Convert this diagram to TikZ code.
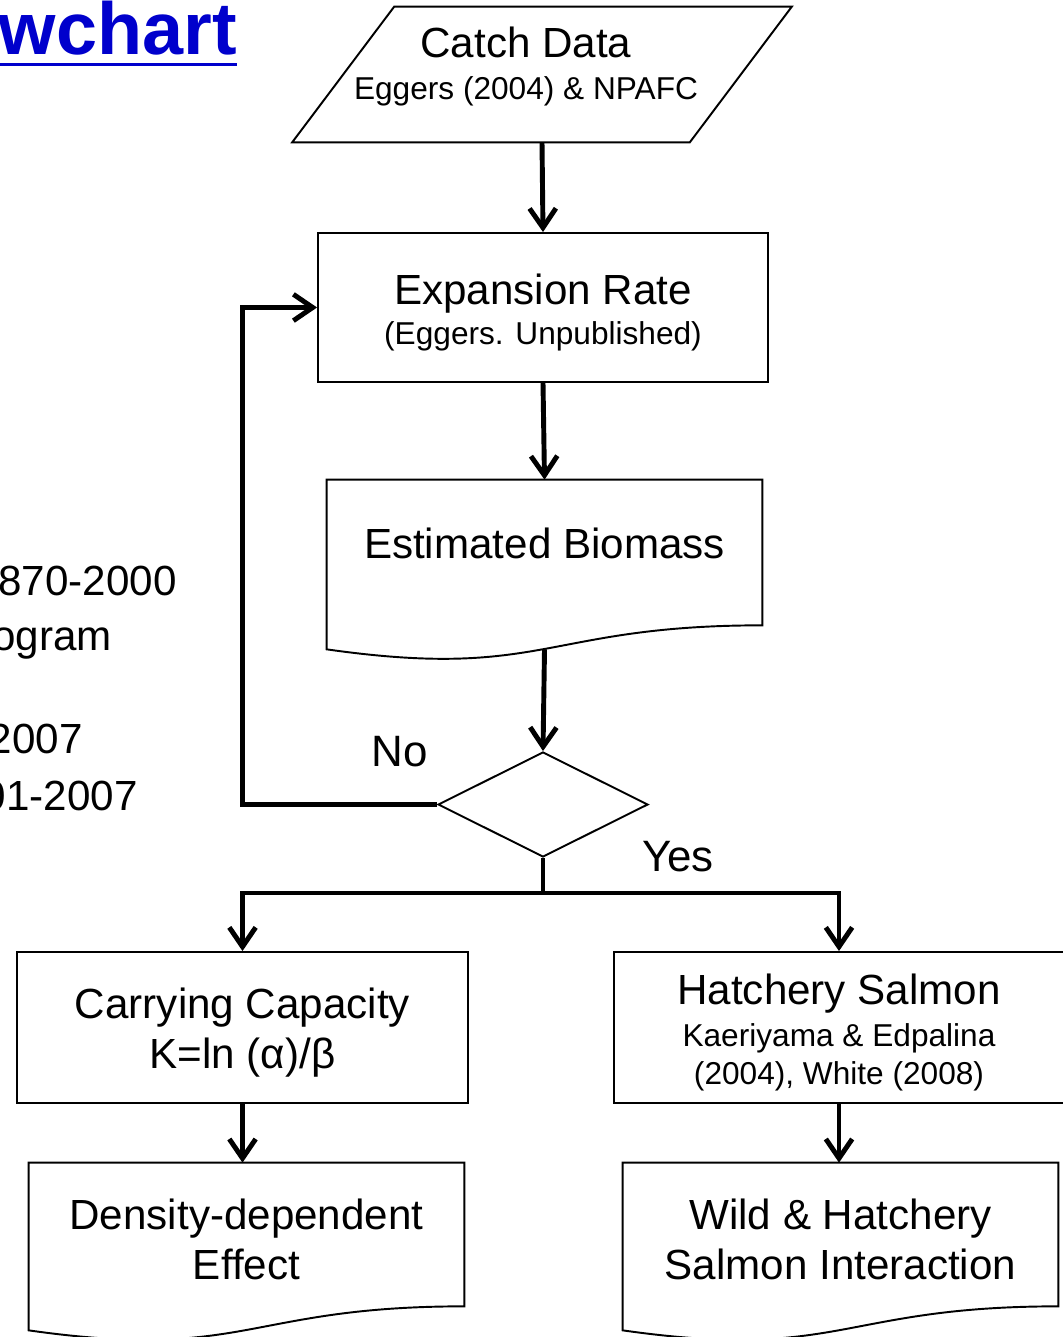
\documentclass[tikz,border=0pt]{standalone}
\usepackage{fontspec}
\setmainfont{Liberation Sans}
\usepackage{xcolor}
\usetikzlibrary{shapes.geometric,arrows.meta,calc,positioning}
\definecolor{titleblue}{RGB}{0,0,204}
\newcommand{\bigtxt}{\fontsize{24}{28.8}\selectfont}
\newcommand{\smalltxt}{\fontsize{18}{21.6}\selectfont}
\newcommand{\dropstrut}{\rule{0pt}{23pt}}

\begin{document}
\begin{tikzpicture}[x=0.02cm, y=-0.02cm,
    thinline/.style={line width=1.1pt},
    flowbox/.style={draw, thinline, inner sep=0pt, align=center, font=\bigtxt},
    docnode/.style={inner sep=0pt, align=center, font=\bigtxt},
    arr/.style={line width=2.8pt, -{Straight Barb[length=11pt, width=15pt]}},
    thickline/.style={line width=2.8pt},
    yesno/.style={font=\fontsize{25}{30}\selectfont},
    cuttxt/.style={font=\bigtxt, anchor=base east, inner sep=0pt},
]
    \useasboundingbox (0,0) rectangle (1062,1337);

    % Cut-off slide text on the left
    \node[font=\fontsize{42}{50}\selectfont\bfseries, text=titleblue, anchor=base east, inner sep=0pt] (title) at (237,55) {wchart};
    \draw[titleblue, line width=1.8pt] ([yshift=-0.19cm]title.base west) -- ([yshift=-0.19cm]title.base east);
    \node[cuttxt] (yrone) at (177,595) {870-2000};
    \node[cuttxt] (prog) at (112,650) {ogram};
    \node[cuttxt] (yrtwo) at (83,753) {2007};
    \node[cuttxt] (yrthree) at (138,810) {01-2007};

    % Catch data (parallelogram)
    \node[inner sep=0pt, minimum width=7.94cm, minimum height=2.7cm] (catch) at (542,74.5) {};
    \draw[thinline] ($(catch.north west)+(51,0)$) -- ($(catch.north east)+(51,0)$)
        -- ($(catch.south east)+(-51,0)$) -- ($(catch.south west)+(-51,0)$) -- cycle;
    \node[font=\bigtxt, align=center] (catchtxt) at (526,66.5) {Catch Data\\[-5pt]{\smalltxt Eggers (2004) \& NPAFC}};

    % Boxes
    \node[flowbox, minimum width=9cm, minimum height=2.98cm] (expand) at (543,307.5)
        {\dropstrut Expansion Rate\\[-6pt]{\smalltxt (Eggers. Unpublished)}};
    \node[flowbox, minimum width=9.02cm, minimum height=3.02cm] (carry) at (242.5,1027.5)
        {\dropstrut Carrying Capacity\\K=ln (α)/β};
    \node[flowbox, minimum width=9cm, minimum height=3.02cm] (hatch) at (839,1027.5)
        {\dropstrut Hatchery Salmon\\[-5pt]{\smalltxt Kaeriyama \& Edpalina}\\[-7pt]{\smalltxt (2004), White (2008)}};

    % Documents
    \node[docnode, minimum width=8.7cm, minimum height=2.9cm, text depth=11pt] (bio) at (544.5,552.5) {Estimated Biomass};
    \node[docnode, minimum width=8.7cm, minimum height=2.86cm] (dens) at (246.5,1234.5) {\dropstrut Density-dependent\\Effect};
    \node[docnode, minimum width=8.7cm, minimum height=2.86cm] (wild) at (840.5,1234.5) {\dropstrut Wild \& Hatchery\\Salmon Interaction};
    \foreach \d in {bio,dens,wild} {
        \draw[thinline] (\d.north west) -- (\d.north east) -- (\d.south east)
            .. controls (\d.south) and ($(\d.south)+(0,55)$) .. ($(\d.south west)+(0,24)$) -- cycle;
    }

    % Decision
    \node[draw, diamond, thinline, inner sep=0pt, minimum width=4.2cm, minimum height=2.1cm] (dec) at (543,804.5) {};
    \node[yesno] (no) at (400,752) {No};
    \node[yesno] (yes) at (678,857) {Yes};

    % Connectors
    \draw[arr] (catch.south) -- (expand.north);
    \draw[arr] (expand.south) -- (bio.north);
    \draw[arr] ($(bio.south)+(0,24)$) -- (dec.north);
    \draw[arr] (dec.west) -- (dec.west -| carry.north) |- (expand.west);
    \draw[thickline] (dec.south) -- ++(0,35) coordinate (split);
    \draw[arr] (split) -| (carry.north);
    \draw[arr] (split) -| (hatch.north);
    \draw[arr] (carry.south) -- (carry.south |- dens.north);
    \draw[arr] (hatch.south) -- (hatch.south |- wild.north);
\end{tikzpicture}
\end{document}
